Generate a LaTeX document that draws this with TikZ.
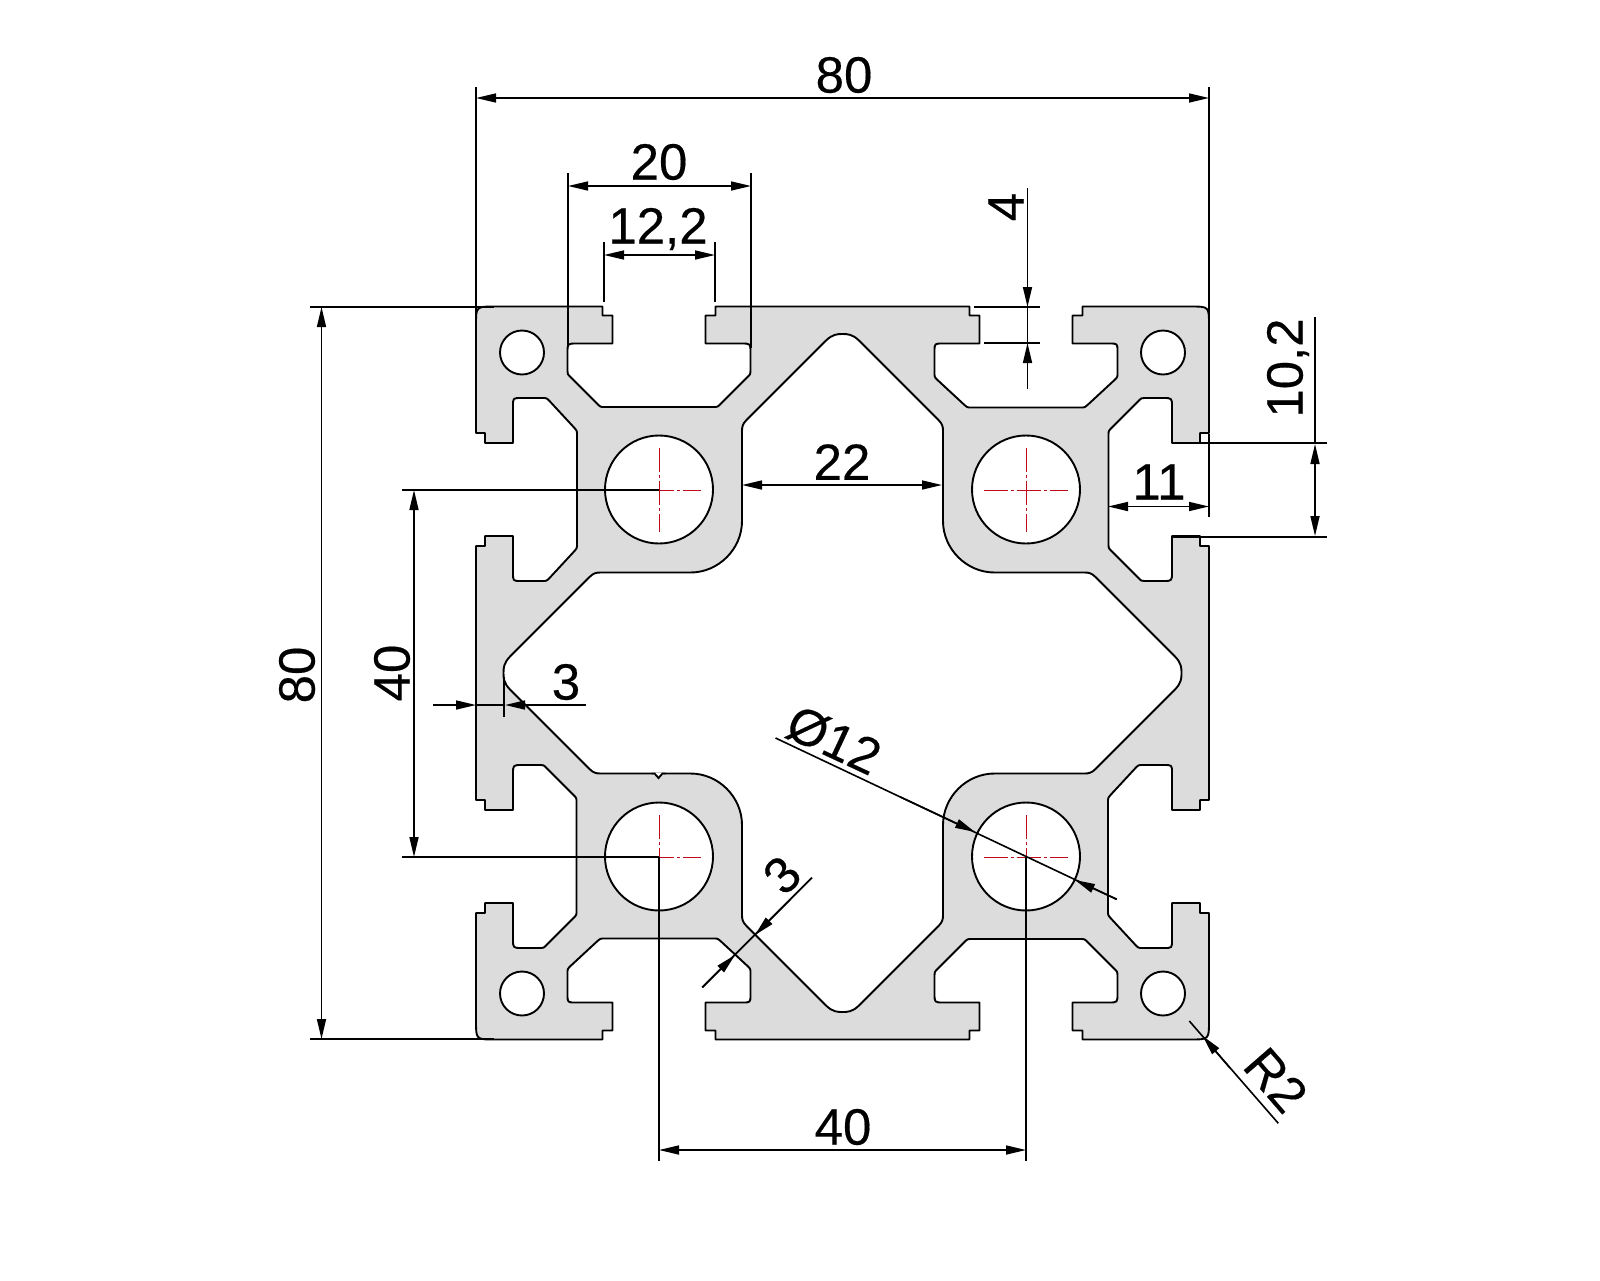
\documentclass[tikz,border=0pt]{standalone}
\usepackage{fontspec}
\setmainfont{Liberation Sans}[FakeBold=0.3]
\usetikzlibrary{arrows.meta}
\definecolor{alu}{HTML}{DCDCDC}
\definecolor{axisred}{HTML}{C00A1E}
\tikzset{
  body/.style={fill=alu,draw=black,line width=0.95pt,even odd rule,line join=round},
  dim/.style={draw=black,line width=0.8pt},
  axisline/.style={draw=axisred,line width=0.42pt,dash pattern=on 12pt off 1.5pt on 1.5pt off 1.5pt},
  tipend/.style={-{Stealth[length=10pt,width=4.5pt,inset=0pt]}},
  tipboth/.style={{Stealth[length=10pt,width=4.5pt,inset=0pt]}-{Stealth[length=10pt,width=4.5pt,inset=0pt]}},
  lbl/.style={font=\fontsize{25.5}{25.5}\selectfont,inner sep=0pt,text=black}
}
\def\OUTER{-- (-366.5,-127) -- (-357.5,-127) -- (-357.5,-137) -- (-329.5,-137) -- (-329.5,-100) .. controls (-329.5,-92) .. (-321.5,-92) -- (-300,-92) .. controls (-296,-92) .. (-293,-95) -- (-268,-122) .. controls (-265.5,-125) .. (-265.5,-129) -- (-265.5,-238) .. controls (-265.5,-242) .. (-268,-245) -- (-293,-272) .. controls (-296,-275) .. (-300,-275) -- (-321.5,-275) .. controls (-329.5,-275) .. (-329.5,-267) -- (-329.5,-230) -- (-357.5,-230) -- (-357.5,-240) -- (-366.5,-240) -- (-366.5,-348) .. controls (-366.5,-366.5) .. (-348,-366.5) -- (-240,-366.5) -- (-240,-357.5) -- (-230,-357.5) -- (-230,-329.5) -- (-266,-329.5) .. controls (-275,-329.5) .. (-275,-320.5) -- (-275,-302) .. controls (-275,-299) .. (-272,-296) -- (-245,-269) .. controls (-242,-266) .. (-238,-266) -- (-129,-266) .. controls (-125,-266) .. (-122,-269) -- (-95,-296) .. controls (-92,-299) .. (-92,-302) -- (-92,-320.5) .. controls (-92,-329.5) .. (-101,-329.5) -- (-137,-329.5) -- (-137,-357.5) -- (-127,-357.5) -- (-127,-366.5) -- (0,-366.5)}
\def\CAVITY{.. controls (-339,-5) and (-339,-10) .. (-332,-17) -- (-253,-96) .. controls (-249,-100) and (-246,-100.5) .. (-242,-100.5) -- (-152,-100.5) .. controls (-124,-100.5) and (-100.5,-124) .. (-100.5,-152) -- (-100.5,-242) .. controls (-100.5,-246) and (-100,-249) .. (-96,-253) -- (-17,-332) .. controls (-10,-339) and (-5,-339) .. (0,-339)}
\begin{document}
\begin{tikzpicture}[x=0.5pt,y=-0.5pt]
\useasboundingbox (0,0) rectangle (1600,1280);
\fill[white] (0,0) rectangle (1600,1280);
% profile
\begin{scope}[shift={(842.5,673)}]
\path[body] (-366.5,0) {[rotate=0]\OUTER} {[rotate=-90]\OUTER} {[rotate=-180]\OUTER} {[rotate=-270]\OUTER} -- cycle
  (-339,0) {[rotate=0]\CAVITY} {[rotate=-90]\CAVITY} {[rotate=-180]\CAVITY} {[rotate=-270]\CAVITY} -- cycle
  (-183.5,-183.5) circle[radius=54] (183.5,-183.5) circle[radius=54]
  (-183.5,183.5) circle[radius=54] (183.5,183.5) circle[radius=54]
  (-320.5,-320.5) circle[radius=22] (320.5,-320.5) circle[radius=22]
  (-320.5,320.5) circle[radius=22] (320.5,320.5) circle[radius=22];
\fill[white] (-191,99.5) -- (-177,99.5) -- (-184,105.5) -- cycle;
\draw[line width=0.95pt] (-191,100.5) -- (-188,100.5) -- (-184,105) -- (-180,100.5) -- (-177,100.5);
\end{scope}
% centre lines
\foreach \cx/\cy in {659/490,1026/490,659/857,1026/857}{
  \draw[axisline] (\cx-42,\cy) -- (\cx+42,\cy);
  \draw[axisline] (\cx,\cy-42) -- (\cx,\cy+42);
}
% 80 top
\draw[dim] (476,87) -- (476,325);
\draw[dim] (1209,87) -- (1209,320);
\draw[dim,tipboth] (476,98) -- (1209,98);
\node[lbl] (dimtop) at (844,75) {80};
% 20
\draw[dim] (568,173) -- (568,347);
\draw[dim] (751,173) -- (751,348);
\draw[dim,tipboth] (568,186) -- (751,186);
\node[lbl] (dimtwenty) at (659,162) {20};
% 12,2
\draw[dim] (604,242) -- (604,302);
\draw[dim] (715,242) -- (715,302);
\draw[dim,tipboth] (604,255) -- (715,255);
\node[lbl] (dimslot) at (658,229) {12,2};
% 4
\draw[dim] (974,307) -- (1040,307);
\draw[dim] (984,343) -- (1040,343);
\draw[dim,tipend] (1027.5,188) -- (1027.5,307);
\draw[dim,tipend] (1027.5,389) -- (1027.5,343);
\draw[dim] (1027.5,307) -- (1027.5,343);
\node[lbl,rotate=90] (dimfour) at (1006,207) {4};
% 10,2
\draw[dim] (1172,443) -- (1327,443);
\draw[dim] (1172,537) -- (1327,537);
\draw[dim] (1315,317) -- (1315,443);
\draw[dim,tipboth] (1315,444) -- (1315,536);
\node[lbl,rotate=90] (dimopen) at (1288,368) {10,2};
% 11
\draw[dim] (1209,434) -- (1209,517);
\draw[dim,tipboth] (1108,506.5) -- (1209,506.5);
\node[lbl] (dimeleven) at (1159,482) {11};
% 22
\draw[dim,tipboth] (742,485) -- (942,485);
\node[lbl] (dimweb) at (842,462) {22};
% 40 left
\draw[dim] (402,490) -- (659,490);
\draw[dim] (402,857) -- (659,857);
\draw[dim,tipboth] (414,490) -- (414,857);
\node[lbl,rotate=90] (dimleft) at (392,673) {40};
% 80 left
\draw[dim] (310,307) -- (494,307);
\draw[dim] (310,1039) -- (494,1039);
\draw[dim,tipboth] (321.5,307) -- (321.5,1039);
\node[lbl,rotate=90] (dimouter) at (297,675) {80};
% 3 left
\draw[dim] (504,677) -- (504,717);
\draw[dim,tipend] (433,705) -- (476,705);
\draw[dim] (476,705) -- (504,705);
\draw[dim,tipend] (586,705) -- (505,705);
\node[lbl] (dimwall) at (566,682) {3};
% diameter 12
\draw[dim] (775.5,738) -- (1116.7,899.3);
\draw[dim,tipend] (900,796.8) -- (975,832);
\draw[dim,tipend] (1116.7,899.3) -- (1075,880);
\node[lbl,rotate=-25] (dimdia) at (834,740) {Ø12};
% 3 diagonal
\draw[dim] (702.3,987.3) -- (812,877.6);
\draw[dim,tipend] (702.3,987.3) -- (735,955);
\draw[dim,tipend] (790,899.6) -- (755,935);
\node[lbl,rotate=45] (dimdiag) at (782,875) {3};
% R2
\draw[dim] (1189.3,1021) -- (1278.3,1123.3);
\draw[dim,tipend] (1230,1068) -- (1202.7,1036);
\node[lbl,rotate=-49] (dimrad) at (1276,1080) {R2};
% 40 bottom
\draw[dim] (659,857) -- (659,1161);
\draw[dim] (1026,857) -- (1026,1161);
\draw[dim,tipboth] (659,1150) -- (1026,1150);
\node[lbl] (dimbottom) at (843,1127) {40};
\end{tikzpicture}
\end{document}
